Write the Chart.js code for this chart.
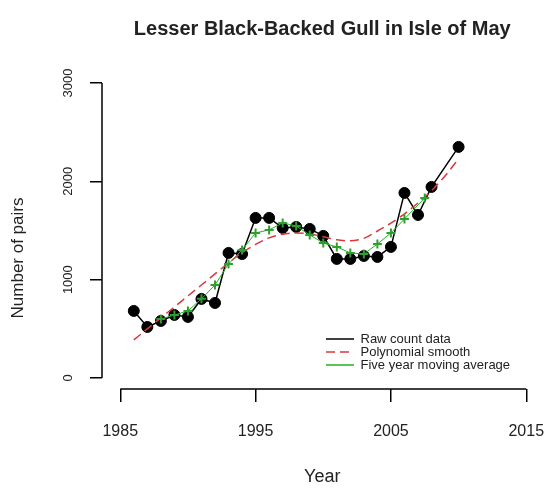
<!DOCTYPE html>
<html><head><meta charset="utf-8">
<script src="https://cdn.jsdelivr.net/npm/chart.js@4.4.1/dist/chart.umd.min.js"></script>
<style>html,body{margin:0;padding:0;background:#fff;overflow:hidden}canvas{display:block}</style>
</head><body>
<canvas id="c" width="549" height="491"></canvas>
<script>
const chartTitle = 'Lesser Black-Backed Gull in Isle of May';
const xTitle = 'Year';
const yTitle = 'Number of pairs';
const seriesNames = ['Raw count data', 'Polynomial smooth', 'Five year moving average'];

const rawYears = [1986,1987,1988,1989,1990,1991,1992,1993,1994,1995,1996,1997,1998,1999,2000,2001,2002,2003,2004,2005,2006,2007,2008,2010];
const rawCounts = [682,519,580,641,621,804,763,1272,1261,1628,1628,1526,1536,1516,1445,1211,1211,1241,1231,1333,1882,1658,1943,2350];

const smoothYears = [1986,1987,1988,1989,1990,1991,1992,1993,1994,1995,1996,1997,1998,1999,2000,2001,2002,2003,2004,2005,2006,2007,2008,2009,2010];
const smoothValues = [387,500,612,722,835,946,1058,1170,1275,1358,1425,1462,1475,1465,1437,1405,1395,1420,1495,1575,1670,1780,1905,2055,2230];

const maYears = [1988,1989,1990,1991,1992,1993,1994,1995,1996,1997,1998,1999,2000,2001,2002,2003,2004,2005,2006,2007.5];
const maValues = [600,640,682,805,946,1160,1302,1475,1506,1577,1546,1455,1373,1333,1272,1261,1363,1475,1617,1831];

const xTicks = [1985,1995,2005,2015];
const yTicks = [0,1000,2000,3000];

const FONT = "'Liberation Sans', Arial, Helvetica, sans-serif";
Chart.defaults.font.family = FONT;
Chart.defaults.color = '#222';

const toPts = (xs, ys) => xs.map((x, i) => ({x: x, y: ys[i]}));

const axisLines = {
  id: 'axisLines',
  afterDraw(chart) {
    const {ctx, chartArea, scales: {x, y}} = chart;
    ctx.save();
    ctx.strokeStyle = '#000';
    ctx.lineWidth = 1.5;
    ctx.beginPath();
    ctx.moveTo(chartArea.left, y.getPixelForValue(yTicks[0]));
    ctx.lineTo(chartArea.left, y.getPixelForValue(yTicks[yTicks.length - 1]));
    ctx.moveTo(x.getPixelForValue(xTicks[0]), chartArea.bottom);
    ctx.lineTo(x.getPixelForValue(xTicks[xTicks.length - 1]), chartArea.bottom);
    ctx.stroke();
    // y axis title
    ctx.translate(18, 258);
    ctx.rotate(-Math.PI / 2);
    ctx.fillStyle = '#222';
    ctx.font = '17px ' + FONT;
    ctx.textAlign = 'center';
    ctx.textBaseline = 'middle';
    ctx.fillText(yTitle, 0, 0);
    ctx.restore();
  }
};

const legendPlacer = {
  id: 'legendPlacer',
  afterLayout(chart) {
    const lg = chart.legend;
    if (!lg) return;
    lg.left = 326; lg.top = 332.5;
    lg.width = 220; lg.height = 60;
    lg.right = lg.left + lg.width; lg.bottom = lg.top + lg.height;
  }
};

new Chart(document.getElementById('c'), {
  type: 'line',
  data: {
    datasets: [
      {
        label: seriesNames[0],
        data: toPts(rawYears, rawCounts),
        borderColor: '#000', backgroundColor: '#000', borderWidth: 1.5,
        pointRadius: 5.5, pointBackgroundColor: '#000', pointBorderColor: '#000', pointBorderWidth: 1,
        tension: 0, order: 3
      },
      {
        label: seriesNames[1],
        data: toPts(smoothYears, smoothValues),
        borderColor: '#d9383f', backgroundColor: '#d9383f', borderWidth: 1.5, borderDash: [9, 5],
        pointRadius: 0, tension: 0.4, cubicInterpolationMode: 'monotone', order: 2
      },
      {
        label: seriesNames[2],
        data: toPts(maYears, maValues),
        borderColor: '#1fb51f', backgroundColor: '#1fb51f', borderWidth: 1,
        pointStyle: 'cross', pointRadius: 4.5, pointBorderWidth: 2, pointBorderColor: '#2e9e2e',
        tension: 0, order: 1
      }
    ]
  },
  options: {
    responsive: false,
    animation: false,
    devicePixelRatio: 1,
    layout: {padding: {left: 0, right: 1, top: 0, bottom: 0}},
    plugins: {
      title: {
        display: true, text: chartTitle, fullSize: false,
        font: {size: 20, weight: 'bold'}, color: '#222',
        padding: {top: 17, bottom: 30}
      },
      legend: {
        display: true, position: 'chartArea', align: 'start',
        labels: {
          usePointStyle: true, pointStyleWidth: 28, padding: 0,
          font: {size: 13}, color: '#222',
          generateLabels: (chart) => chart.data.datasets.map((ds, i) => ({
            text: ds.label, fillStyle: ds.borderColor, strokeStyle: ds.borderColor,
            lineWidth: 1.5, lineDash: ds.borderDash || [], pointStyle: 'line',
            hidden: false, datasetIndex: i, fontColor: '#222'
          }))
        }
      },
      tooltip: {enabled: false}
    },
    scales: {
      x: {
        type: 'linear', min: 1983.65, max: 2016.2,
        afterBuildTicks: (s) => { s.ticks = xTicks.map(v => ({value: v})); },
        ticks: {callback: (v) => String(v), font: {size: 16}, color: '#222', padding: 20, maxRotation: 0, autoSkip: false},
        grid: {drawOnChartArea: false, drawTicks: true, tickLength: 13, color: '#000', lineWidth: 1.5},
        border: {display: false},
        title: {display: true, text: xTitle, font: {size: 18}, color: '#222', padding: {top: 0, bottom: 3}},
        afterFit: (s) => { s.height = 102; s.paddingLeft = 0; s.paddingRight = 0; }
      },
      y: {
        type: 'linear', min: -112, max: 3122,
        afterBuildTicks: (s) => { s.ticks = yTicks.map(v => ({value: v})); },
        ticks: {callback: (v) => String(v), font: {size: 13}, color: '#222', padding: 7, minRotation: 90, maxRotation: 90, crossAlign: 'center', autoSkip: false},
        grid: {drawOnChartArea: false, drawTicks: true, tickLength: 12, color: '#000', lineWidth: 1.5},
        border: {display: false},
        afterFit: (s) => { s.width = 102; s.paddingTop = 0; s.paddingBottom = 0; }
      }
    }
  },
  plugins: [axisLines, legendPlacer]
});
</script>
</body></html>
